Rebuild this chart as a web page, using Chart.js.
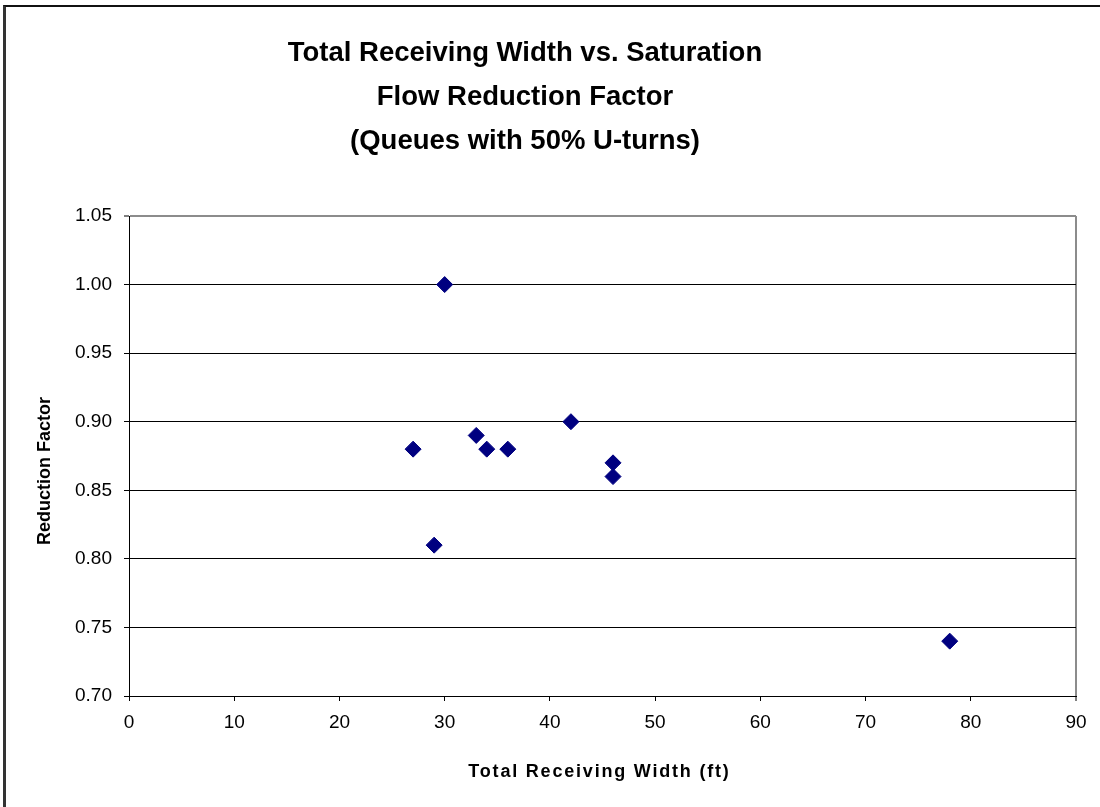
<!DOCTYPE html>
<html>
<head>
<meta charset="utf-8">
<title>Total Receiving Width vs. Saturation Flow Reduction Factor</title>
<script src="https://cdn.jsdelivr.net/npm/chart.js@4/dist/chart.umd.min.js"></script>
<style>
  html, body { margin: 0; padding: 0; background: #ffffff; overflow: hidden; }
  #wrap { position: relative; width: 1100px; height: 807px; overflow: hidden; }
  #frame {
    position: absolute; left: 3px; top: 5px; width: 1200px; height: 900px;
    border-left: 3px solid #333333; border-top: 2px solid #111111;
    pointer-events: none; z-index: 2;
  }
  #holder { position: absolute; left: -26px; top: 0; width: 1126px; height: 807px; z-index: 1; }
</style>
</head>
<body>
<div id="wrap">
  <div id="holder"><canvas id="chart" width="1126" height="807"></canvas></div>
  <div id="frame"></div>
</div>
<script>
// Total receiving width (ft) for each observed queue
const receivingWidth = [27, 29, 30, 33, 34, 36, 42, 46, 46, 78];
// Saturation flow reduction factor measured for each queue
const reductionFactor = [0.88, 0.81, 1.00, 0.89, 0.88, 0.88, 0.90, 0.87, 0.86, 0.74];
// Axis tick values
const xTickValues = [0, 10, 20, 30, 40, 50, 60, 70, 80, 90];
const yTickValues = [0.70, 0.75, 0.80, 0.85, 0.90, 0.95, 1.00, 1.05];

const titleLines = [
  'Total Receiving Width vs. Saturation',
  'Flow Reduction Factor',
  '(Queues with 50% U-turns)'
];
const xAxisTitle = 'Total Receiving Width (ft)';
const yAxisTitle = 'Reduction Factor';

const FONT = '"Liberation Sans", Arial, Helvetica, sans-serif';
const points = receivingWidth.map((x, i) => ({ x: x, y: reductionFactor[i] }));

// Horizontal axis title, drawn with a little extra letter tracking
const xTitlePlugin = {
  id: 'xTitlePlugin',
  afterDraw(chart) {
    const ctx = chart.ctx;
    const area = chart.chartArea;
    const xs = chart.scales.x;
    ctx.save();
    ctx.letterSpacing = '1.8px';
    ctx.font = 'bold 18px ' + FONT;
    ctx.fillStyle = '#000000';
    ctx.textAlign = 'center';
    ctx.textBaseline = 'middle';
    ctx.fillText(xAxisTitle, (area.left + area.right) / 2 - 3, xs.bottom - 35);
    ctx.restore();
  }
};

new Chart(document.getElementById('chart'), {
  type: 'scatter',
  data: {
    datasets: [{
      data: points,
      pointStyle: 'rectRot',
      pointRadius: 8,
      pointHoverRadius: 8,
      pointBackgroundColor: '#000080',
      pointBorderColor: '#000080',
      pointBorderWidth: 1
    }]
  },
  plugins: [xTitlePlugin],
  options: {
    responsive: false,
    animation: false,
    layout: { padding: { left: 0, right: 24, top: 0, bottom: 0 } },
    plugins: {
      legend: { display: false },
      tooltip: { enabled: false },
      title: {
        display: true,
        text: titleLines,
        color: '#000000',
        font: { family: FONT, size: 27.5, weight: 'bold', lineHeight: 44 / 27.5 },
        padding: { top: 31, bottom: 53 }
      }
    },
    scales: {
      x: {
        type: 'linear',
        min: 0,
        max: 90,
        afterBuildTicks: (scale) => { scale.ticks = xTickValues.map(v => ({ value: v })); },
        afterFit: (scale) => { scale.height = 111; },
        border: { display: true, color: '#000000', width: 1 },
        grid: {
          drawOnChartArea: true,
          color: (ctx) => (ctx.tick && ctx.tick.value === 90) ? '#8c8c8c' : 'rgba(0,0,0,0)',
          lineWidth: (ctx) => (ctx.tick && ctx.tick.value === 90) ? 2 : 1,
          tickColor: '#000000',
          tickLength: 5,
          tickWidth: 1
        },
        ticks: {
          color: '#000000',
          padding: 10,
          maxRotation: 0,
          font: { family: FONT, size: 19 },
          callback: (v) => String(v)
        },
        title: { display: false }
      },
      y: {
        type: 'linear',
        min: 0.70,
        max: 1.05,
        afterBuildTicks: (scale) => { scale.ticks = yTickValues.map(v => ({ value: v })); },
        afterFit: (scale) => { scale.width = 155; },
        border: { display: true, color: '#000000', width: 1 },
        grid: {
          color: (ctx) => (ctx.tick && Math.abs(ctx.tick.value - 1.05) < 1e-9) ? '#8c8c8c' : '#000000',
          lineWidth: (ctx) => (ctx.tick && Math.abs(ctx.tick.value - 1.05) < 1e-9) ? 2 : 1,
          tickColor: '#000000',
          tickLength: 5,
          tickWidth: 1
        },
        ticks: {
          color: '#000000',
          padding: 12,
          font: { family: FONT, size: 19 },
          callback: (v) => Number(v).toFixed(2)
        },
        title: {
          display: true,
          text: yAxisTitle + '      ',
          color: '#000000',
          font: { family: FONT, size: 18, weight: 'bold' },
          padding: { top: 60, bottom: 0 }
        }
      }
    }
  }
});
</script>
</body>
</html>
